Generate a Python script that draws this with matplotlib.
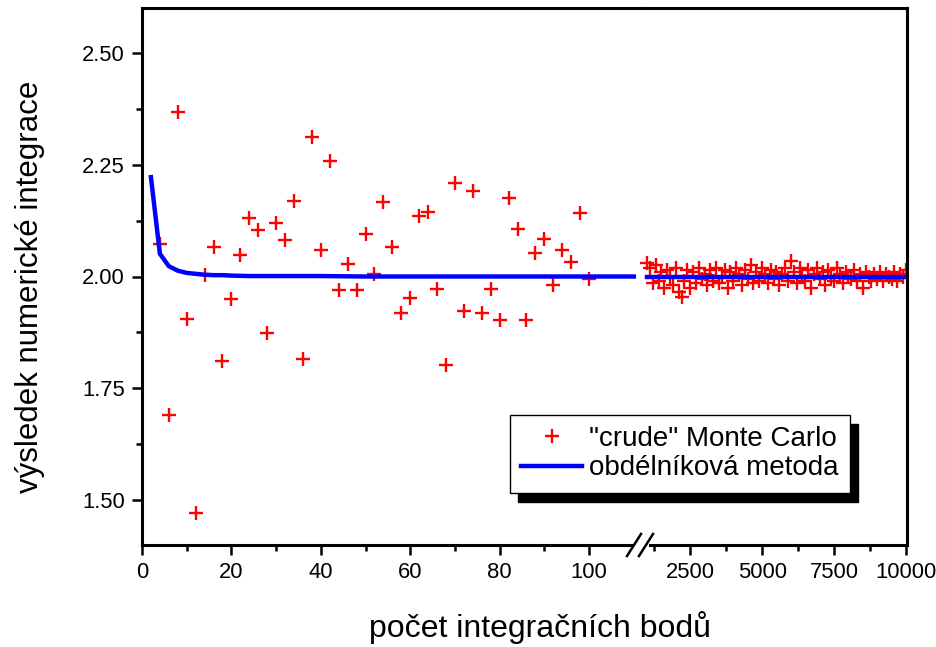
import numpy as np
import matplotlib.pyplot as plt
from matplotlib.lines import Line2D
from matplotlib.ticker import MultipleLocator

plt.rcParams['font.family'] = ['Liberation Sans', 'DejaVu Sans']

# "crude" Monte Carlo, small n
mc_n = [4, 6, 8, 10, 12, 14, 16, 18, 20, 22, 24, 26, 28, 30, 32, 34, 36, 38, 40,
        42, 44, 46, 48, 50, 52, 54, 56, 58, 60, 62, 64, 66, 68, 70, 72, 74, 76,
        78, 80, 82, 84, 86, 88, 90, 92, 94, 96, 98, 100]
mc_val = [2.073, 1.691, 2.367, 1.904, 1.472, 2.004, 2.067, 1.812, 1.950, 2.049,
          2.131, 2.105, 1.873, 2.119, 2.082, 2.168, 1.815, 2.311, 2.060, 2.259,
          1.969, 2.028, 1.969, 2.094, 2.006, 2.166, 2.067, 1.918, 1.953, 2.136,
          2.145, 1.971, 1.803, 2.210, 1.923, 2.192, 1.919, 1.971, 1.903, 2.176,
          2.106, 1.903, 2.052, 2.084, 1.980, 2.060, 2.033, 2.143, 1.995]

# "crude" Monte Carlo, large n (1000 .. 10000, step 100)
mc_n_big = list(range(1000, 10001, 100))
mc_val_big = [2.030, 2.020, 1.985, 2.025, 1.990, 2.010, 1.975, 2.015, 2.000, 1.980,
              2.020, 1.965, 1.955, 1.990, 2.015, 1.975, 2.010, 1.985, 2.020, 1.995,
              2.005, 1.980, 2.015, 1.990, 2.020, 1.985, 2.000, 2.015, 1.975, 2.010,
              1.990, 2.020, 2.005, 1.980, 2.015, 1.995, 2.025, 1.985, 2.010, 1.990,
              2.020, 2.005, 1.985, 2.015, 1.995, 2.010, 1.980, 2.005, 2.020, 1.990,
              2.035, 2.010, 1.985, 2.020, 2.000, 1.990, 2.015, 1.975, 2.005, 2.020,
              1.995, 2.010, 1.980, 2.015, 2.000, 1.990, 2.020, 2.005, 1.985, 2.010,
              2.000, 1.995, 2.015, 1.990, 2.005, 1.975, 2.010, 2.000, 1.990, 2.005,
              1.995, 2.010, 1.990, 2.005, 2.000, 1.995, 2.010, 1.990, 2.005, 2.000,
              2.015]

# obdélníková (midpoint) metoda
rect_n = [2, 4, 6, 8, 10, 12, 14, 16, 18, 20, 24, 28, 32, 40, 50, 60, 80, 110]
rect_val = [2.222, 2.051, 2.023, 2.013, 2.008, 2.006, 2.004, 2.003, 2.003, 2.002,
            2.001, 2.001, 2.001, 2.001, 2.000, 2.000, 2.000, 2.000]
rect_n_big = [1000, 10000]
rect_val_big = [2.000, 2.000]

W, H = 937, 647
fig = plt.figure(figsize=(W / 100, H / 100), dpi=100)
x0, xb, x1 = 142, 640, 907
y_bot, y_top = 545, 8
axL = fig.add_axes([x0 / W, 1 - y_bot / H, (xb - x0) / W, (y_bot - y_top) / H])
axR = fig.add_axes([xb / W, 1 - y_bot / H, (x1 - xb) / W, (y_bot - y_top) / H], sharey=axL)

red, blue = '#ff0000', '#0000ff'
mk = dict(ls='none', marker='+', ms=10.5, mew=1.7, color=red)
h1, = axL.plot(mc_n, mc_val, **mk, label='"crude" Monte Carlo', clip_on=False)
h2, = axL.plot(rect_n, rect_val, color=blue, lw=3.2, label='obdélníková metoda')
axR.plot(mc_n_big, mc_val_big, **mk)
axR.plot(rect_n_big, rect_val_big, color=blue, lw=3.2)

axL.set_xlim(0, 111.4)
axR.set_xlim(757, 10035)
axL.set_ylim(1.40, 2.60)

for ax in (axL, axR):
    for s in ax.spines.values():
        s.set_linewidth(2.2)
    ax.tick_params(which='major', direction='out', length=7.2, width=1.8, labelsize=15.8, pad=5)
    ax.tick_params(which='minor', direction='out', length=4.5, width=1.8)
    ax.tick_params(top=False, right=False)

axL.spines['right'].set_visible(False)
axR.spines['left'].set_visible(False)
axR.tick_params(axis='y', which='both', left=False, labelleft=False)
axL.spines['bottom'].set_bounds(0, 109.5)
axR.spines['bottom'].set_bounds(1120, 10035)

axL.set_xticks([0, 20, 40, 60, 80, 100])
axL.set_xticks([10, 30, 50, 70, 90], minor=True)
axR.set_xticks([2500, 5000, 7500, 10000])
axR.set_xticks([1250, 3750, 6250, 8750], minor=True)
axL.yaxis.set_major_locator(MultipleLocator(0.25))
axL.yaxis.set_minor_locator(MultipleLocator(0.125))
axL.yaxis.set_major_formatter(lambda v, p: f'{v:.2f}')

# axis break marks
for cx in (634, 646):
    fig.add_artist(Line2D([(cx - 7) / W, (cx + 7) / W], [1 - 556 / H, 1 - 534 / H],
                          transform=fig.transFigure, color='black', lw=1.8))

fig.text(30 / W, 1 - 287 / H, 'výsledek numerické integrace', rotation=90,
         ha='center', va='center', fontsize=22.5)
fig.text(540 / W, 1 - 627 / H, 'počet integračních bodů', ha='center', va='center',
         fontsize=23)

leg = fig.legend(handles=[h1, h2], loc='upper left', bbox_to_anchor=(510 / W, 1 - 415 / H),
                 bbox_transform=fig.transFigure, borderaxespad=0, fontsize=20,
                 fancybox=False, edgecolor='black', framealpha=1, handlelength=2.2,
                 handletextpad=0.25, borderpad=0.4, labelspacing=0.12,
                 shadow={'ox': 6, 'oy': -6.5, 'color': 'black', 'alpha': 1})
leg.get_frame().set_linewidth(1.0)

fig.savefig('out.png', dpi=100)
